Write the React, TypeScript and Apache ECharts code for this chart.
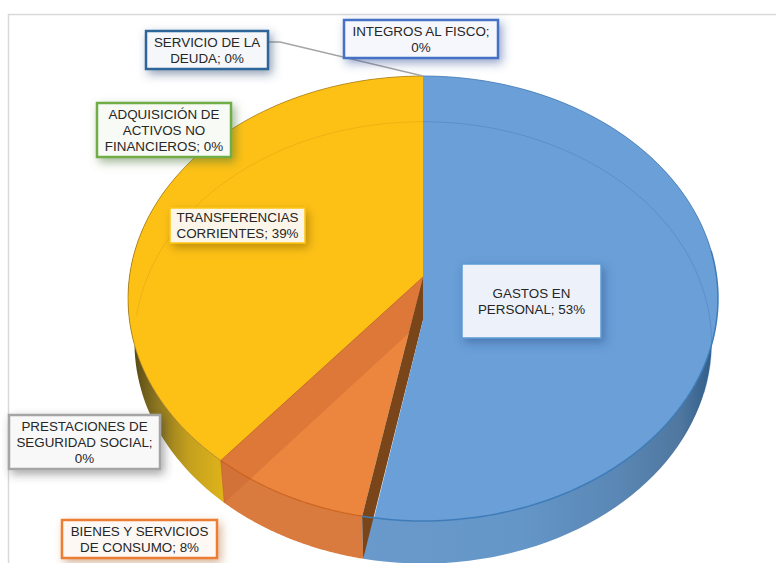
import React, { useEffect, useRef } from "react";
import * as echarts from "echarts";

// ---- data (clockwise from 12 o'clock) ----
const categories = [
  "GASTOS EN PERSONAL",
  "BIENES Y SERVICIOS DE CONSUMO",
  "PRESTACIONES DE SEGURIDAD SOCIAL",
  "TRANSFERENCIAS CORRIENTES",
  "ADQUISICIÓN DE ACTIVOS NO FINANCIEROS",
  "SERVICIO DE LA DEUDA",
  "INTEGROS AL FISCO",
];
const shares = [53, 8, 0, 39, 0, 0, 0];
const labelTexts = [
  "GASTOS EN\nPERSONAL; 53%",
  "BIENES Y SERVICIOS\nDE CONSUMO; 8%",
  "PRESTACIONES DE\nSEGURIDAD SOCIAL;\n0%",
  "TRANSFERENCIAS\nCORRIENTES; 39%",
  "ADQUISICIÓN DE\nACTIVOS NO\nFINANCIEROS; 0%",
  "SERVICIO DE LA\nDEUDA; 0%",
  "INTEGROS AL FISCO;\n0%",
];

// ---- layout / styling (separate from data) ----
const labelBoxes = [
  { x: 462, y: 264, w: 139, h: 74, border: "#5B9BD5", fill: "#EDF2FA", bw: 1.5, shadow: "rgba(40,80,140,0.5)" },
  { x: 62, y: 520, w: 155, h: 38, border: "#ED7D31", fill: "#FDF8F4", bw: 2.5, shadow: "rgba(170,90,40,0.45)" },
  { x: 9, y: 415, w: 151, h: 54, border: "#A5A5A5", fill: "#F8F8F8", bw: 2.5, shadow: "rgba(60,60,60,0.45)" },
  { x: 170, y: 208, w: 135, h: 35, border: "#FFC516", fill: "#FBF6E9", bw: 1.5, shadow: "rgba(140,100,0,0.55)" },
  { x: 97, y: 103, w: 134, h: 54, border: "#70AD47", fill: "#F8FAF5", bw: 2.5, shadow: "rgba(70,110,50,0.5)" },
  { x: 146, y: 31, w: 122, h: 38, border: "#2E6699", fill: "#F5F7FA", bw: 2.5, shadow: "rgba(40,70,110,0.5)" },
  { x: 344, y: 20, w: 154, h: 38, border: "#4472C4", fill: "#F5F7FC", bw: 2.5, shadow: "rgba(50,80,150,0.5)" },
];

const topDisk = { cx: 423, cy: 277, sx: 293.6, sy: 220.4, k: 0.0966 };
const baseDisk = { cx: 423, cy: 320, sx: 287, sy: 218.6, k: 0.1025 };
const TAU = Math.PI * 2;

const project = (d: typeof topDisk, a: number) => {
  const X = Math.sin(a);
  const Y = -Math.cos(a);
  const w = 1 - d.k * Y;
  return [d.cx + (d.sx * X) / w, d.cy + (d.sy * Y) / w];
};
const arc = (d: typeof topDisk, a0: number, a1: number, n = 90) => {
  const out: number[][] = [];
  for (let i = 0; i <= n; i++) out.push(project(d, a0 + ((a1 - a0) * i) / n));
  return out;
};
const apex = (d: typeof topDisk) => [d.cx, d.cy];
const grad = (x0: number, x1: number, stops: [number, string][]) =>
  new echarts.graphic.LinearGradient(
    x0, 0, x1, 0,
    stops.map(([offset, color]) => ({ offset, color })),
    true
  );

const sliceStart = (i: number) =>
  (shares.slice(0, i).reduce((s, v) => s + v, 0) / 100) * TAU;

const poly = (points: number[][], style: any) => ({
  type: "polygon",
  silent: true,
  shape: { points },
  style,
});
const line = (points: number[][], stroke: string, lineWidth: number) => ({
  type: "polyline",
  silent: true,
  shape: { points },
  style: { fill: "none", stroke, lineWidth },
});

function renderSlice(params: any, api: any) {
  const i = api.value(0);
  const v = shares[i];
  if (!v) return undefined;
  const a0 = sliceStart(i);
  const a1 = a0 + (v / 100) * TAU;
  const rimTop = arc(topDisk, a0, a1);
  const rimBase = arc(baseDisk, a0, a1);
  const wallPts = [...rimTop, ...rimBase.slice().reverse()];
  const children: any[] = [];

  if (i === 3) {
    children.push(
      poly(wallPts, {
        fill: grad(128, 222, [
          [0, "#4a3e12"],
          [0.3, "#8A7420"],
          [0.65, "#C4A01E"],
          [1, "#DDB21A"],
        ]),
      })
    );
    children.push(poly([apex(topDisk), ...rimTop], { fill: "#FDC116" }));
    children.push(line(rimTop, "rgba(150,110,20,0.65)", 1));
    children.push(line(arc(baseDisk, a0 + 0.9, a1), "rgba(205,150,15,0.45)", 0.8));
  }
  if (i === 1) {
    children.push(poly(wallPts, { fill: "#D97B3E" }));
    children.push(poly([apex(topDisk), ...rimTop], { fill: "#EC863F" }));
    const e = project(topDisk, a1);
    const eb = project(baseDisk, a1);
    children.push(
      poly([apex(topDisk), e, eb, apex(baseDisk)], {
        fill: "rgba(205,105,50,0.5)",
      })
    );
    children.push(line([apex(topDisk), e], "rgba(190,100,25,0.8)", 1));
    children.push(line(rimTop, "rgba(200,95,25,0.9)", 1.2));
    children.push(line([e, eb], "rgba(200,95,25,0.7)", 1));
  }
  if (i === 0) {
    const e = project(topDisk, a1);
    const eb = project(baseDisk, a1);
    const pb = apex(baseDisk);
    children.push(
      poly(wallPts, {
        fill: grad(362, 716, [
          [0, "#6A9ACB"],
          [0.45, "#6496C8"],
          [0.72, "#5A87B5"],
          [0.9, "#4F779F"],
          [1, "#2D5A88"],
        ]),
      })
    );
    // radial wall on the blue / orange boundary
    children.push(poly([apex(topDisk), e, eb, pb], { fill: "#7A4518" }));
    // top face, bounded on the left by the lower edge of that wall
    const side = (p: number[]) =>
      (eb[0] - pb[0]) * (p[1] - pb[1]) - (eb[1] - pb[1]) * (p[0] - pb[0]);
    const kept = rimTop.filter((p) => side(p) <= 0 || p[0] >= pb[0]);
    children.push(poly([pb, ...kept], { fill: "#6A9FD7" }));
    children.push(line(arc(baseDisk, a0, a0 + 1.9), "rgba(60,110,170,0.4)", 0.8));
    children.push(line(arc(topDisk, a0, a0 + 1.45), "rgba(70,125,185,0.8)", 1));
    children.push(line(arc(topDisk, a0 + 1.45, a1), "#3E7CB9", 1.5));
  }
  return { type: "group", children };
}

// Back to front, so the slices overlap the way the solid does.
const drawOrder = [3, 1, 0];

const OVER = { z: 50, zlevel: 0 };

function buildOption() {
  const graphics: any[] = [
    {
      type: "polyline",
      silent: true,
      ...OVER,
      shape: { points: [[8.5, 563], [8.5, 14.5], [776, 14.5]] },
      style: { fill: "none", stroke: "#D9D9D9", lineWidth: 1.5 },
    },
    {
      type: "polyline",
      silent: true,
      ...OVER,
      shape: { points: [[268, 42], [280, 42], [423, 76]] },
      style: { fill: "none", stroke: "#A5A5A5", lineWidth: 1.6 },
    },
  ];
  labelBoxes.forEach((b, i) => {
    graphics.push({
      type: "rect",
      silent: true,
      ...OVER,
      shape: { x: b.x, y: b.y, width: b.w, height: b.h },
      style: {
        fill: b.fill,
        stroke: b.border,
        lineWidth: b.bw,
        shadowBlur: 10,
        shadowOffsetX: 3,
        shadowOffsetY: 4,
        shadowColor: b.shadow,
      },
    });
    graphics.push({
      type: "text",
      silent: true,
      ...OVER,
      x: b.x + b.w / 2,
      y: b.y + b.h / 2,
      style: {
        text: labelTexts[i],
        fill: "#262626",
        font: "13.4px 'Liberation Sans', Arial, sans-serif",
        lineHeight: 16,
        align: "center",
        verticalAlign: "middle",
      },
    });
  });
  return {
    animation: false,
    backgroundColor: "#ffffff",
    series: [
      {
        type: "custom",
        coordinateSystem: "none",
        silent: true,
        clip: false,
        z: 1,
        renderItem: renderSlice,
        data: drawOrder.map((i) => ({ name: categories[i], value: [i, shares[i]] })),
      },
    ],
    graphic: { elements: graphics },
  };
}

export default function App() {
  const ref = useRef<HTMLDivElement | null>(null);
  useEffect(() => {
    const chart = echarts.init(ref.current!, undefined, { renderer: "svg" });
    chart.setOption(buildOption() as any);
    return () => chart.dispose();
  }, []);
  return (
    <div
      ref={ref}
      style={{ position: "absolute", left: 0, top: 0, width: 776, height: 563 }}
    />
  );
}
